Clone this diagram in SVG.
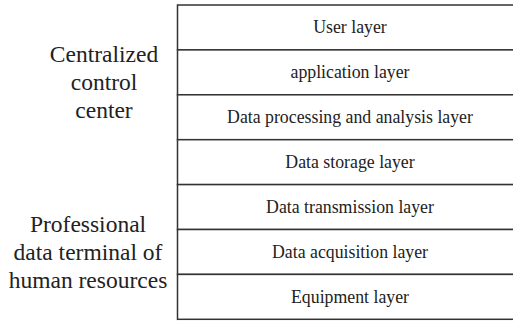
<svg xmlns="http://www.w3.org/2000/svg" width="513" height="322" viewBox="0 0 513 322">
<style>
.box{fill:#fff;stroke:#333;stroke-width:1.5}
.lt{font-size:17.8px;fill:#222;text-anchor:middle}
.side{font-size:23.5px;fill:#222;text-anchor:middle}
</style>
<rect width="513" height="322" fill="#fff"/>
<g id="labels" font-family="'Liberation Serif', 'Times New Roman', serif">
<text class="side" x="104" y="62">Centralized</text>
<text class="side" x="104" y="90">control</text>
<text class="side" x="104" y="118">center</text>
<text class="side" x="88" y="232">Professional</text>
<text class="side" x="88" y="260">data terminal of</text>
<text class="side" x="88" y="288">human resources</text>
</g>
<g font-family="'Liberation Serif', 'Times New Roman', serif">
<g id="user"><rect class="box" x="177.5" y="5" width="345" height="44.9"/><text class="lt" x="350" y="33.3">User layer</text></g>
<g id="application"><rect class="box" x="177.5" y="49.9" width="345" height="44.9"/><text class="lt" x="350" y="78.2">application layer</text></g>
<g id="processing"><rect class="box" x="177.5" y="94.8" width="345" height="44.9"/><text class="lt" x="350" y="123.1">Data processing and analysis layer</text></g>
<g id="storage"><rect class="box" x="177.5" y="139.7" width="345" height="44.9"/><text class="lt" x="350" y="168">Data storage layer</text></g>
<g id="transmission"><rect class="box" x="177.5" y="184.6" width="345" height="44.9"/><text class="lt" x="350" y="212.9">Data transmission layer</text></g>
<g id="acquisition"><rect class="box" x="177.5" y="229.5" width="345" height="44.9"/><text class="lt" x="350" y="257.8">Data acquisition layer</text></g>
<g id="equipment"><rect class="box" x="177.5" y="274.4" width="345" height="44.9"/><text class="lt" x="350" y="302.7">Equipment layer</text></g>
</g>
<g id="connectors"></g>
</svg>
